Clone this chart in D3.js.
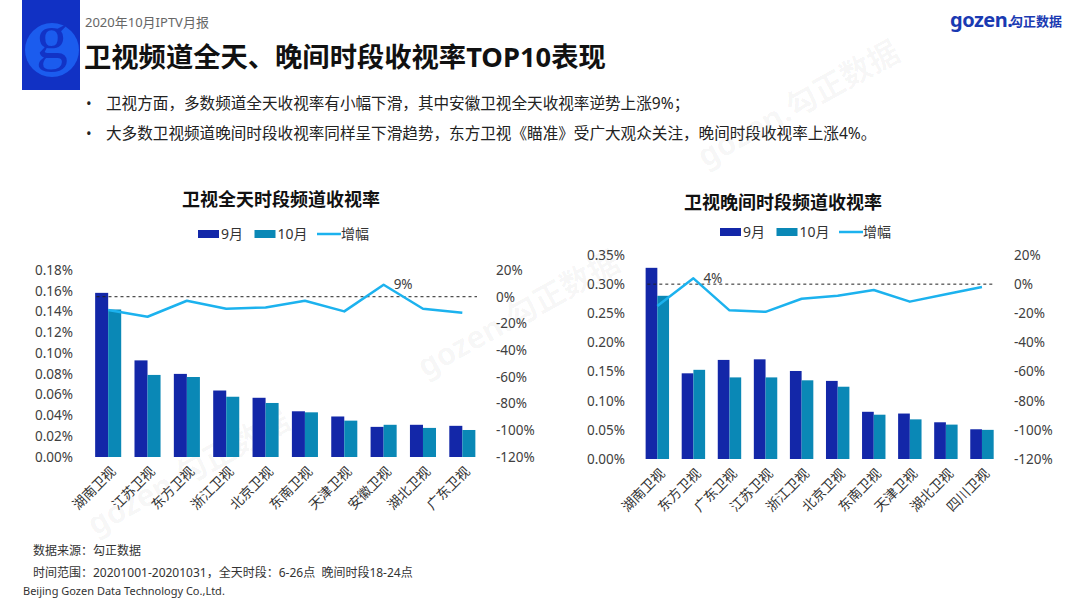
<!DOCTYPE html>
<html>
<head>
<meta charset="utf-8">
<script src="https://cdn.jsdelivr.net/npm/d3@7/dist/d3.min.js"></script>
<style>
  body { margin: 0; background: #fff; }
  svg { font-family: 'Noto Sans', 'Noto Sans CJK SC', sans-serif; }
</style>
</head>
<body>
<div id="chart"></div>
<script>
const W = 1080, H = 608;

// 全天
const allCats = ['湖南卫视', '江苏卫视', '东方卫视', '浙江卫视', '北京卫视', '东南卫视', '天津卫视', '安徽卫视', '湖北卫视', '广东卫视'];
const allSep = [0.158, 0.093, 0.080, 0.064, 0.057, 0.044, 0.039, 0.029, 0.031, 0.030];
const allOct = [0.142, 0.079, 0.077, 0.058, 0.052, 0.043, 0.035, 0.031, 0.028, 0.026];
const allGrowth = [-10, -15, -3, -9, -8, -3, -11, 9, -9, -12];
const allTicks = [0, 0.02, 0.04, 0.06, 0.08, 0.10, 0.12, 0.14, 0.16, 0.18];

// 晚间
const eveCats = ['湖南卫视', '东方卫视', '广东卫视', '江苏卫视', '浙江卫视', '北京卫视', '东南卫视', '天津卫视', '湖北卫视', '四川卫视'];
const eveSep = [0.328, 0.147, 0.170, 0.171, 0.151, 0.134, 0.081, 0.078, 0.063, 0.051];
const eveOct = [0.280, 0.153, 0.140, 0.140, 0.135, 0.124, 0.076, 0.068, 0.059, 0.050];
const eveGrowth = [-15, 4, -18, -19, -10, -8, -4, -12, -7, -2];
const eveTicks = [0, 0.05, 0.10, 0.15, 0.20, 0.25, 0.30, 0.35];

const growthTicks = [-120, -100, -80, -60, -40, -20, 0, 20];
const seriesNames = ['9月', '10月', '增幅'];
const colors = { sep: '#1327A8', oct: '#0A88B6', line: '#1CB2EE' };

const svg = d3.select('#chart')
    .append('svg')
        .attr('width', W)
        .attr('height', H);

// watermarks
[[705, 168], [425, 378], [95, 536]].forEach(function(p) {
    svg.append('text')
        .attr('transform', `translate(${p[0]}, ${p[1]}) rotate(-29)`)
        .attr('font-size', 31)
        .attr('font-weight', 700)
        .attr('fill', '#000')
        .attr('fill-opacity', 0.04)
        .text('gozen.勾正数据');
});

// header
const logo = svg.append('g');
logo.append('rect')
    .attr('x', 22).attr('y', 0)
    .attr('width', 58).attr('height', 90)
    .attr('fill', '#1131C4');
logo.append('circle')
    .attr('cx', 52).attr('cy', 50).attr('r', 27)
    .attr('fill', '#1B5CEE');
logo.append('text')
    .attr('x', 52).attr('y', 58)
    .attr('text-anchor', 'middle')
    .attr('font-family', "'Liberation Serif', serif")
    .attr('font-size', 64)
    .attr('fill', '#1233C6')
    .text('g');

svg.append('text')
    .attr('x', 85).attr('y', 27)
    .attr('font-size', 13)
    .attr('fill', '#666')
    .text('2020年10月IPTV月报');

svg.append('text')
    .attr('x', 84).attr('y', 67)
    .attr('font-size', 27.3)
    .attr('font-weight', 700)
    .attr('fill', '#111')
    .text('卫视频道全天、晚间时段收视率TOP10表现');

const bullets = [
    '卫视方面，多数频道全天收视率有小幅下滑，其中安徽卫视全天收视率逆势上涨9%；',
    '大多数卫视频道晚间时段收视率同样呈下滑趋势，东方卫视《瞄准》受广大观众关注，晚间时段收视率上涨4%。'
];
bullets.forEach(function(b, i) {
    svg.append('text')
        .attr('x', 86).attr('y', 109 + i * 30)
        .attr('font-size', 15)
        .attr('fill', '#222')
        .text('•');
    svg.append('text')
        .attr('x', 106).attr('y', 109 + i * 30)
        .attr('font-size', 15.6)
        .attr('fill', '#222')
        .text(b);
});

// top right logo
svg.append('text')
    .attr('x', 950).attr('y', 27)
    .attr('font-size', 20)
    .attr('font-weight', 700)
    .attr('fill', '#1A3AB2')
    .attr('letter-spacing', -0.5)
    .text('gozen.');
svg.append('text')
    .attr('x', 1010).attr('y', 26)
    .attr('font-size', 13)
    .attr('font-weight', 700)
    .attr('fill', '#1A3AB2')
    .text('勾正数据');

// footer
svg.append('text')
    .attr('x', 33).attr('y', 555)
    .attr('font-size', 12)
    .attr('fill', '#333')
    .text('数据来源：勾正数据');
svg.append('text')
    .attr('x', 33).attr('y', 577)
    .attr('font-size', 12)
    .attr('fill', '#333')
    .style('white-space', 'pre')
    .text('时间范围：20201001-20201031，全天时段：6-26点  晚间时段18-24点');
svg.append('text')
    .attr('x', 23).attr('y', 595)
    .attr('font-size', 11)
    .attr('fill', '#333')
    .text('Beijing Gozen Data Technology Co.,Ltd.');

function drawChart(o) {
    const g = svg.append('g');

    const x0 = d3.scaleBand().domain(o.cats).range([o.left, o.right]);
    const x1 = d3.scaleBand().domain(['sep', 'oct'])
        .range([0, x0.bandwidth()])
        .paddingOuter(o.po);
    const y = d3.scaleLinear().domain([0, d3.max(o.ticks)]).range([o.bottom, o.top]);
    const yr = d3.scaleLinear().domain([-120, 20]).range([o.bottom, o.top]);

    // title
    g.append('text')
        .attr('x', o.titleX).attr('y', o.titleY)
        .attr('text-anchor', 'middle')
        .attr('font-size', 18)
        .attr('font-weight', 700)
        .attr('fill', '#111')
        .text(o.title);

    // legend
    const lg = g.append('g').attr('transform', `translate(${o.legendX}, ${o.legendY})`);
    const legendItems = [
        { name: seriesNames[0], type: 'bar', color: colors.sep, x: 0 },
        { name: seriesNames[1], type: 'bar', color: colors.oct, x: 56.5 },
        { name: seriesNames[2], type: 'line', color: colors.line, x: 119 }
    ];
    legendItems.forEach(function(d) {
        if (d.type === 'bar') {
            lg.append('rect')
                .attr('x', d.x).attr('y', -4)
                .attr('width', 21).attr('height', 8)
                .attr('fill', d.color);
        } else {
            lg.append('line')
                .attr('x1', d.x).attr('x2', d.x + 24)
                .attr('y1', 0).attr('y2', 0)
                .attr('stroke', d.color)
                .attr('stroke-width', 2.5);
        }
        lg.append('text')
            .attr('x', d.x + (d.type === 'bar' ? 23 : 24))
            .attr('y', 0)
            .attr('dy', '0.35em')
            .attr('font-size', 14)
            .attr('fill', '#333')
            .text(d.name);
    });

    // axes
    g.append('g')
        .attr('transform', `translate(${o.leftAxisX}, 0)`)
        .call(d3.axisLeft(y).tickValues(o.ticks).tickSize(0).tickPadding(0)
            .tickFormat(d => d.toFixed(2) + '%'))
        .call(a => a.select('.domain').remove())
        .call(a => a.selectAll('text')
            .attr('font-size', 13.5)
            .attr('fill', '#404040')
            .attr('font-family', "'Noto Sans', sans-serif"));

    g.append('g')
        .attr('transform', `translate(${o.rightAxisX}, 0)`)
        .call(d3.axisRight(yr).tickValues(growthTicks).tickSize(0).tickPadding(0)
            .tickFormat(d => d + '%'))
        .call(a => a.select('.domain').remove())
        .call(a => a.selectAll('text')
            .attr('font-size', 13.5)
            .attr('fill', '#404040')
            .attr('font-family', "'Noto Sans', sans-serif"));

    // bars
    const groups = g.append('g').selectAll('g')
        .data(o.cats)
        .enter()
        .append('g')
            .attr('transform', d => `translate(${x0(d)}, 0)`);

    groups.append('rect')
        .attr('x', x1('sep'))
        .attr('width', x1.bandwidth())
        .attr('y', (d, i) => y(o.sep[i]))
        .attr('height', (d, i) => o.bottom - y(o.sep[i]))
        .attr('fill', colors.sep);

    groups.append('rect')
        .attr('x', x1('oct'))
        .attr('width', x1.bandwidth())
        .attr('y', (d, i) => y(o.oct[i]))
        .attr('height', (d, i) => o.bottom - y(o.oct[i]))
        .attr('fill', colors.oct);

    // category labels
    g.append('g').selectAll('text')
        .data(o.cats)
        .enter()
        .append('text')
            .attr('transform', d => `translate(${x0(d) + x0.bandwidth() / 2 + 5}, ${o.bottom + 12}) rotate(-45)`)
            .attr('text-anchor', 'end')
            .attr('dy', '0.35em')
            .attr('font-size', 13.5)
            .attr('fill', '#333')
            .text(d => d);

    // zero reference line
    g.append('line')
        .attr('x1', o.left + 8).attr('x2', o.right - 5)
        .attr('y1', yr(0)).attr('y2', yr(0))
        .attr('stroke', '#222')
        .attr('stroke-width', 1)
        .attr('stroke-dasharray', '3,3');

    // growth line
    g.append('path')
        .datum(o.growth)
        .attr('fill', 'none')
        .attr('stroke', colors.line)
        .attr('stroke-width', 2.5)
        .attr('stroke-linejoin', 'round')
        .attr('d', d3.line()
            .x((d, i) => x0(o.cats[i]) + x0.bandwidth() / 2)
            .y(d => yr(d)));

    // labels on positive growth
    g.append('g').selectAll('text')
        .data(o.growth.map((v, i) => ({ v: v, c: o.cats[i] })).filter(d => d.v > 0))
        .enter()
        .append('text')
            .attr('x', d => x0(d.c) + x0.bandwidth() / 2 + 10)
            .attr('y', d => yr(d.v))
            .attr('dy', '0.35em')
            .attr('font-size', 13.5)
            .attr('fill', '#404040')
            .attr('font-family', "'Noto Sans', sans-serif")
            .text(d => d.v + '%');
}

drawChart({
    title: '卫视全天时段频道收视率', titleX: 281, titleY: 206,
    legendX: 198, legendY: 234,
    cats: allCats, sep: allSep, oct: allOct, growth: allGrowth, ticks: allTicks,
    left: 88.5, right: 482, top: 270, bottom: 457, po: 0.51,
    leftAxisX: 73, rightAxisX: 496
});

drawChart({
    title: '卫视晚间时段频道收视率', titleX: 783, titleY: 209,
    legendX: 720, legendY: 232,
    cats: eveCats, sep: eveSep, oct: eveOct, growth: eveGrowth, ticks: eveTicks,
    left: 639.3, right: 1000, top: 255, bottom: 459, po: 0.54,
    leftAxisX: 625, rightAxisX: 1014
});
</script>
</body>
</html>
